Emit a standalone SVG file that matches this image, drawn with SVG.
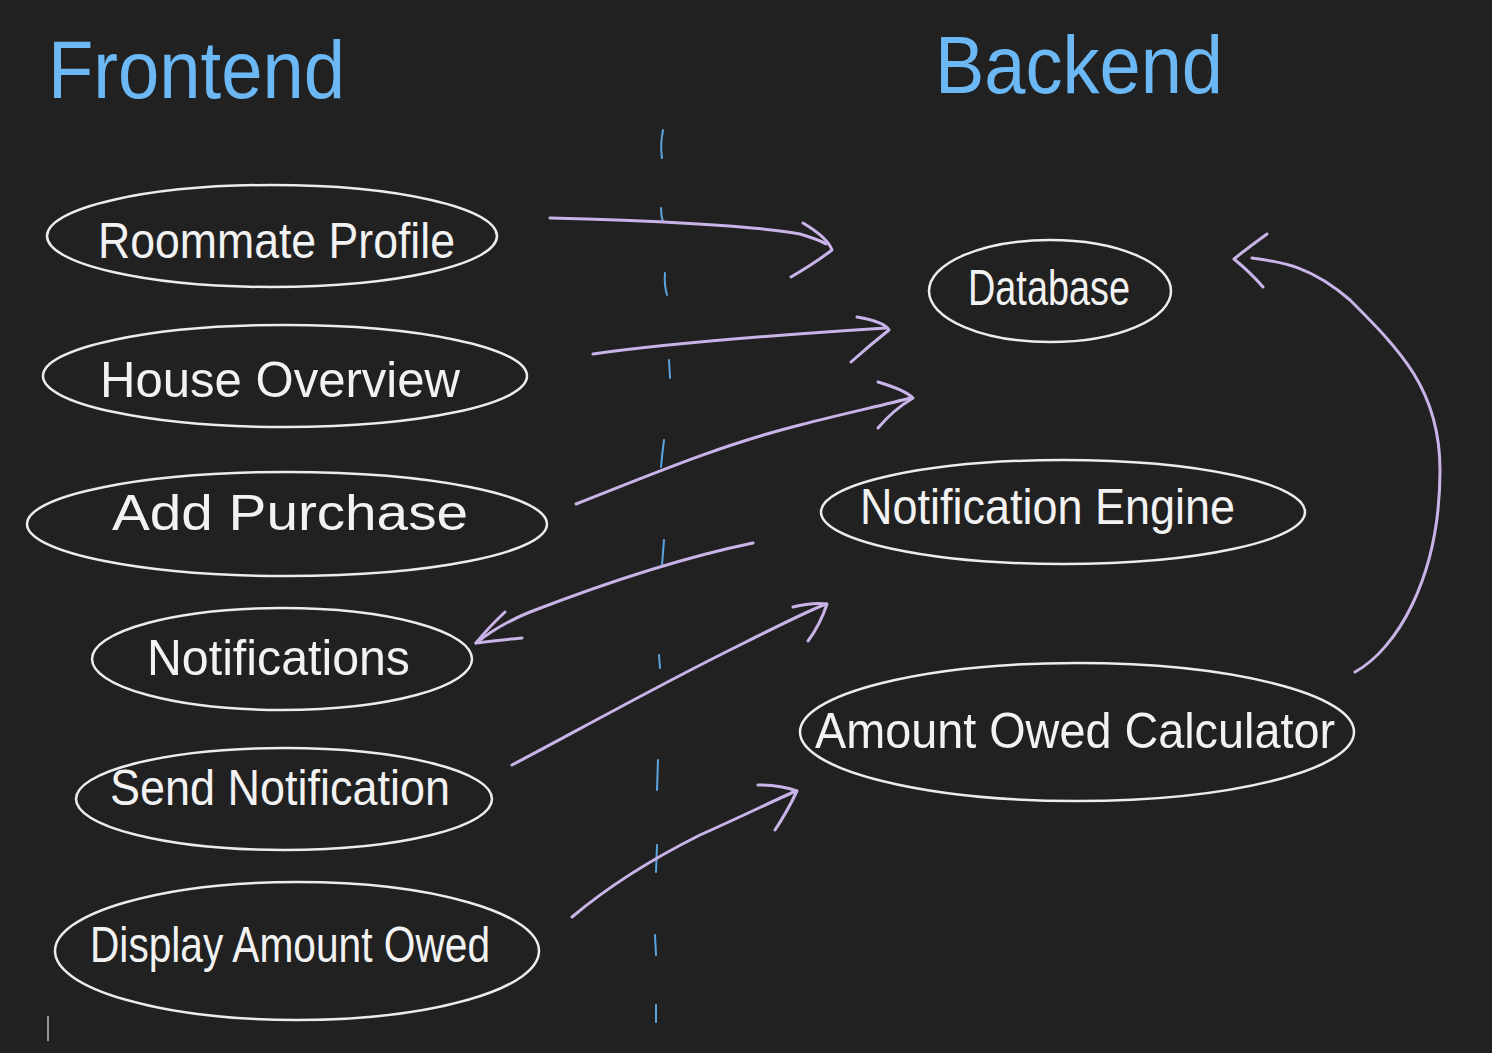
<svg xmlns="http://www.w3.org/2000/svg" width="1492" height="1053" viewBox="0 0 1492 1053">
<style>
.node ellipse{fill:none;stroke:#ececec;stroke-width:2.5}
.lbl{font-family:"Liberation Sans","DejaVu Sans",sans-serif;fill:#f2f2f2;font-size:50px}
.title{font-family:"Liberation Sans","DejaVu Sans",sans-serif;fill:#6cb8f5;font-size:82px}
.conn path{fill:none;stroke:#c9b3e8;stroke-width:3;stroke-linecap:round;stroke-linejoin:round}
.dash path{fill:none;stroke:#5aa4e0;stroke-width:2;stroke-linecap:round}
</style>
<rect width="1492" height="1053" fill="#212121"/>
<text class="title" x="48" y="98" textLength="297" lengthAdjust="spacingAndGlyphs">Frontend</text>
<text class="title" x="935" y="93" textLength="288" lengthAdjust="spacingAndGlyphs">Backend</text>
<g class="dash">
<path d="M663,130 Q660,145 662,158"/>
<path d="M661,208 Q661,216 663,222"/>
<path d="M665,273 Q664,285 667,295"/>
<path d="M669,360 L670,378"/>
<path d="M664,440 Q662,455 661,467"/>
<path d="M664,540 L662,565"/>
<path d="M659,655 L660,668"/>
<path d="M658,760 L657,790"/>
<path d="M657,845 L656,872"/>
<path d="M655,935 L656,955"/>
<path d="M656,1005 L656,1022"/>
</g>
<path d="M48,1016 L48,1041" stroke="#bdbdbd" stroke-width="1.5"/>
<g id="roommate-profile" class="node"><ellipse cx="272" cy="236" rx="225" ry="51"/><text class="lbl" x="98" y="258" textLength="357" lengthAdjust="spacingAndGlyphs">Roommate Profile</text></g>
<g id="house-overview" class="node"><ellipse cx="285" cy="376" rx="242" ry="51"/><text class="lbl" x="100" y="397" textLength="360" lengthAdjust="spacingAndGlyphs">House Overview</text></g>
<g id="add-purchase" class="node"><ellipse cx="287" cy="524" rx="260" ry="52"/><text class="lbl" x="112" y="530" textLength="356" lengthAdjust="spacingAndGlyphs">Add Purchase</text></g>
<g id="notifications" class="node"><ellipse cx="282" cy="659" rx="190" ry="51"/><text class="lbl" x="147" y="675" textLength="263" lengthAdjust="spacingAndGlyphs">Notifications</text></g>
<g id="send-notification" class="node"><ellipse cx="284" cy="799" rx="208" ry="51"/><text class="lbl" x="110" y="805" font-size="44" textLength="340" lengthAdjust="spacingAndGlyphs">Send Notification</text></g>
<g id="display-amount-owed" class="node"><ellipse cx="297" cy="951" rx="242" ry="69"/><text class="lbl" x="90" y="962" font-size="42" textLength="400" lengthAdjust="spacingAndGlyphs">Display Amount Owed</text></g>
<g id="database" class="node"><ellipse cx="1050" cy="291" rx="121" ry="51"/><text class="lbl" x="968" y="305" font-size="44" textLength="162" lengthAdjust="spacingAndGlyphs">Database</text></g>
<g id="notification-engine" class="node"><ellipse cx="1063" cy="512" rx="242" ry="52"/><text class="lbl" x="860" y="524" font-size="42" textLength="375" lengthAdjust="spacingAndGlyphs">Notification   Engine</text></g>
<g id="amount-owed-calculator" class="node"><ellipse cx="1077" cy="732" rx="277" ry="69"/><text class="lbl" x="815" y="748" font-size="42" textLength="520" lengthAdjust="spacingAndGlyphs">Amount  Owed  Calculator</text></g>
<g class="conn">
<path d="M550,218 C640,220 760,226 800,234 Q820,240 826,244"/>
<path d="M803,223 Q828,238 832,250 Q815,263 791,277"/>
<path d="M593,354 C650,346 760,336 886,328"/>
<path d="M857,317 Q885,322 889,330 Q870,345 851,362"/>
<path d="M576,504 C650,475 720,445 800,425 C850,412 885,405 910,398"/>
<path d="M878,382 Q905,390 913,398 Q893,410 878,428"/>
<path d="M753,543 C680,558 600,585 530,612 C505,622 490,632 476,643"/>
<path d="M505,612 Q488,628 476,643 Q500,640 522,638"/>
<path d="M512,765 C560,740 650,690 720,655 C770,630 805,612 826,604"/>
<path d="M793,607 Q812,602 827,604 Q820,625 808,641"/>
<path d="M572,917 C610,885 650,860 700,835 C745,815 775,800 796,791"/>
<path d="M758,785 Q780,785 797,791 Q787,812 775,830"/>
<path d="M1355,672 C1395,650 1440,580 1440,470 C1440,390 1400,350 1350,300 C1310,265 1280,262 1252,258"/>
<path d="M1267,234 Q1245,250 1234,259 Q1250,272 1263,287"/>
</g>
</svg>
